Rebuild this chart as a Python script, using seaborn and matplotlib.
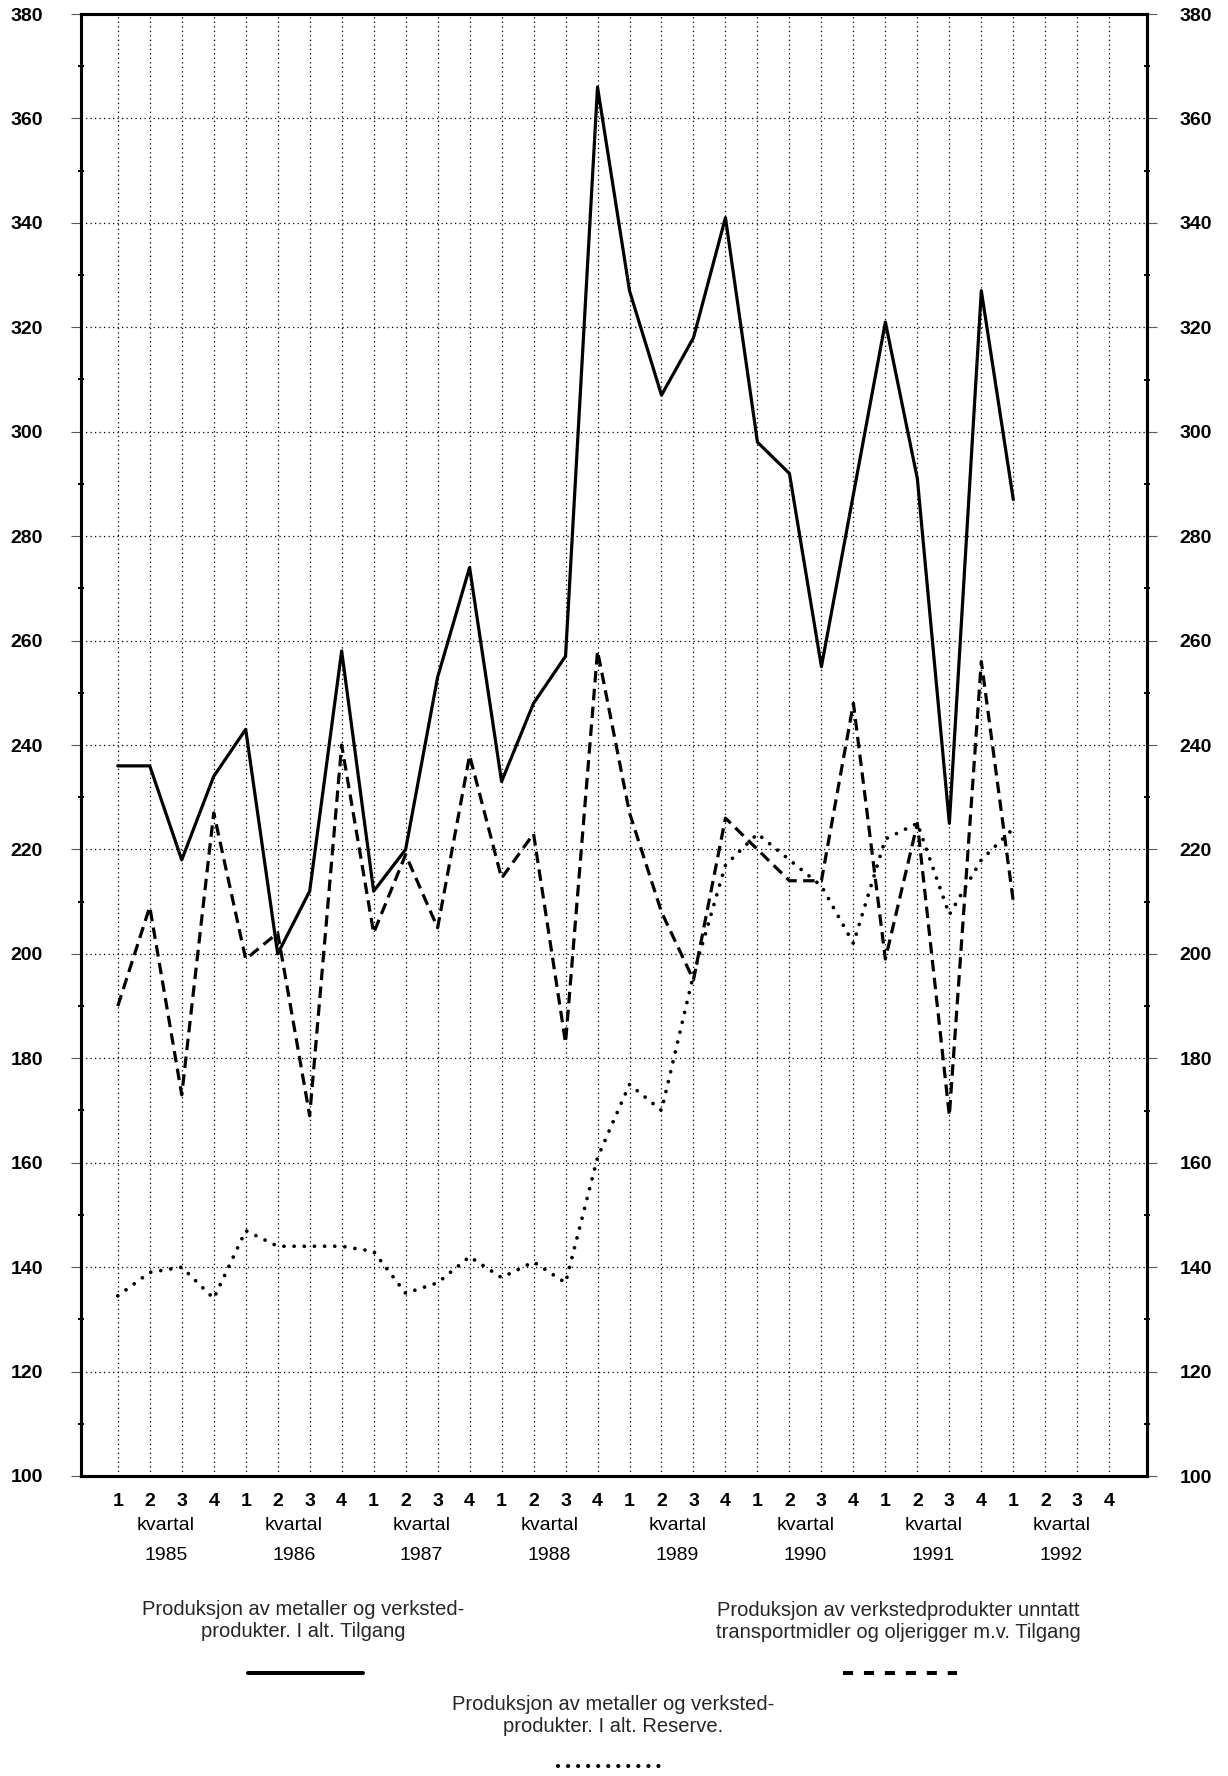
import matplotlib
matplotlib.use("Agg")
import numpy as np
import pandas as pd
import matplotlib.pyplot as plt
import seaborn as sns
from matplotlib.lines import Line2D
from matplotlib.ticker import MultipleLocator

# Styling: plain white, Helvetica-like font
sns.set_theme(style="white")
plt.rcParams['font.family'] = ['Liberation Sans', 'DejaVu Sans']

# ---------------------------------------------------------------------
# Data (quarterly, 1985 Q1 - 1992 Q1)
# ---------------------------------------------------------------------
years = [1985, 1986, 1987, 1988, 1989, 1990, 1991, 1992]
quarters = ["1", "2", "3", "4"]

tilgang_i_alt = [236, 236, 218, 234,
                 243, 200, 212, 258,
                 212, 220, 253, 274,
                 233, 248, 257, 366,
                 327, 307, 318, 341,
                 298, 292, 255, 288,
                 321, 291, 225, 327,
                 287]

verksted_tilgang = [190, 209, 173, 227,
                    199, 204, 169, 240,
                    204, 219, 205, 238,
                    214.5, 223, 183, 258,
                    227, 208, 195, 226,
                    220, 214, 214, 248,
                    199, 225, 169, 256,
                    210]

reserve_i_alt = [134.5, 139, 140, 134,
                 147, 144, 144, 144,
                 143, 135, 137, 142,
                 138, 141, 137, 161,
                 175, 170, 196, 217,
                 223, 218, 213, 202,
                 222, 225, 207.5, 218,
                 224]

y_ticks = list(range(100, 381, 20))

label_tilgang = "Produksjon av metaller og verksted-\nprodukter. I alt. Tilgang"
label_verksted = "Produksjon av verkstedprodukter unntatt\ntransportmidler og oljerigger m.v. Tilgang"
label_reserve = "Produksjon av metaller og verksted-\nprodukter. I alt. Reserve."

df = pd.DataFrame({
    'periode': np.arange(len(tilgang_i_alt)),
    'tilgang': tilgang_i_alt,
    'verksted': verksted_tilgang,
    'reserve': reserve_i_alt,
})

# ---------------------------------------------------------------------
# Figure layout (pixel measurements of the original page)
# ---------------------------------------------------------------------
W, H = 1228, 1776
fig = plt.figure(figsize=(W / 100, H / 100), dpi=100)
fig.patch.set_facecolor('white')

left_px, right_px, top_px, bottom_px = 81, 1147, 14, 1476
ax = fig.add_axes([left_px / W, 1 - bottom_px / H,
                   (right_px - left_px) / W, (bottom_px - top_px) / H])

n_q = len(years) * len(quarters)

sns.lineplot(data=df, x='periode', y='tilgang', ax=ax, color='black', lw=2.3)
sns.lineplot(data=df, x='periode', y='verksted', ax=ax, color='black', lw=2.3,
             ls=(0, (3.6, 2.0)))
sns.lineplot(data=df, x='periode', y='reserve', ax=ax, color='black', lw=2.7,
             ls=(0, (0.01, 2.7)), dash_capstyle='round')

ax.set_xlim(-1.15, n_q - 1 + 1.18)
ax.set_ylim(100, 380)
ax.set_xlabel("")
ax.set_ylabel("")

# grid: dotted at every quarter and every 20
ax.set_xticks(range(n_q))
ax.set_xticklabels(quarters * len(years), fontsize=14, fontweight='bold')
ax.set_yticks(y_ticks)
ax.set_yticklabels([str(v) for v in y_ticks], fontsize=14, fontweight='bold')
ax.grid(True, color='black', lw=0.9, ls=(0, (1, 2.6)))
ax.set_axisbelow(True)

ax.tick_params(axis='x', length=0, pad=12, colors='black')
ax.tick_params(axis='y', which='major', direction='out', length=7, width=0.8,
               color='0.35', pad=20.5, labelcolor='black', left=True)
ax.yaxis.set_minor_locator(MultipleLocator(10))
ax.tick_params(axis='y', which='minor', direction='inout', length=4, width=1.4,
               color='black', left=True)

for s in ax.spines.values():
    s.set_linewidth(2.2)
    s.set_color('black')

# right-hand axis with the same scale
ax2 = ax.twinx()
ax2.set_ylim(ax.get_ylim())
ax2.set_yticks(y_ticks)
ax2.set_yticklabels([str(v) for v in y_ticks], fontsize=14, fontweight='bold')
ax2.yaxis.set_minor_locator(MultipleLocator(10))
ax2.tick_params(axis='y', which='major', direction='out', length=7, width=0.8,
                color='0.35', pad=16.5, labelcolor='black', right=True)
ax2.tick_params(axis='y', which='minor', direction='inout', length=4, width=1.4,
                color='black', right=True)
ax2.grid(False)
for s in ax2.spines.values():
    s.set_linewidth(2.2)
    s.set_color('black')

# "kvartal" and year under each group of quarters
span = bottom_px - top_px
for k, yr in enumerate(years):
    xc = k * 4 + 1.5
    ax.text(xc, (bottom_px - 1525) / span, "kvartal", transform=ax.get_xaxis_transform(),
            ha='center', va='center', fontsize=14, color='black')
    ax.text(xc, (bottom_px - 1555) / span, str(yr), transform=ax.get_xaxis_transform(),
            ha='center', va='center', fontsize=14, color='black')

# ---------------------------------------------------------------------
# Legend drawn below the chart
# ---------------------------------------------------------------------
def fx(px):
    return px / W


def fy(py):
    return 1 - py / H


fig.text(fx(303), fy(1620), label_tilgang, ha='center', va='center',
         multialignment='center', fontsize=14.5, linespacing=1.2)
fig.text(fx(898), fy(1621), label_verksted, ha='center', va='center',
         multialignment='center', fontsize=14.5, linespacing=1.2)
fig.text(fx(613), fy(1715), label_reserve, ha='center', va='center',
         multialignment='center', fontsize=14.5, linespacing=1.2)

fig.add_artist(Line2D([fx(248), fx(363)], [fy(1673), fy(1673)],
                      transform=fig.transFigure, color='black', lw=2.9))
fig.add_artist(Line2D([fx(843), fx(957)], [fy(1673), fy(1673)],
                      transform=fig.transFigure, color='black', lw=2.9,
                      ls=(0, (2.5, 2.7))))
fig.add_artist(Line2D([fx(558), fx(667)], [fy(1766), fy(1766)],
                      transform=fig.transFigure, color='black', lw=3.0,
                      ls=(0, (0.01, 2.4)), dash_capstyle='round'))

fig.savefig("out.png", dpi=100, facecolor='white')
